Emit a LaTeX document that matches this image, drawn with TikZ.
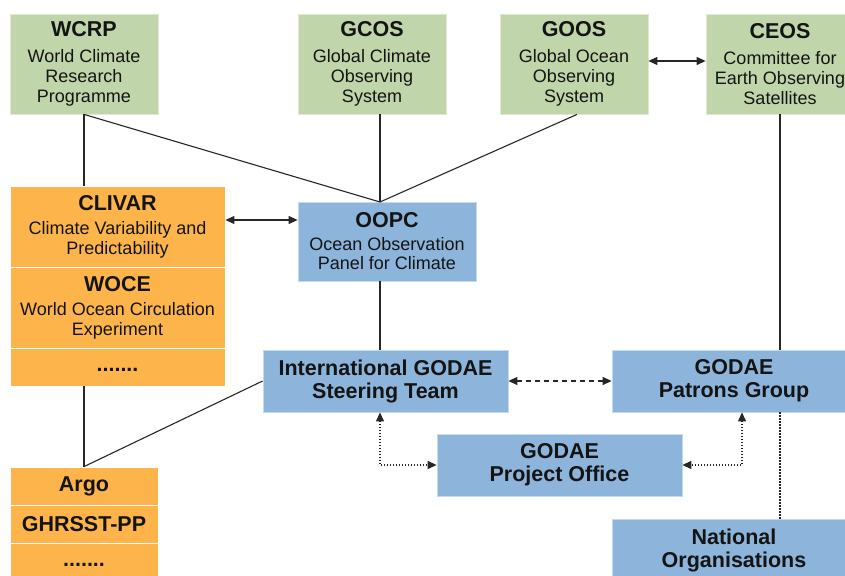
\documentclass[tikz,border=0pt]{standalone}
\usepackage{fontspec}
\setmainfont{Liberation Sans}
\usetikzlibrary{arrows.meta,calc}
\definecolor{grn}{HTML}{C0D5A9}
\definecolor{org}{HTML}{FDB44B}
\definecolor{blu}{HTML}{8DB5DB}
\definecolor{txt}{HTML}{141414}
\newcommand\mytitle{\bfseries\fontsize{21.5}{23}\selectfont}
\newcommand\mydots{\raisebox{-4pt}[0pt][0pt]{.......}}
\begin{document}
\begin{tikzpicture}[x=1pt,y=-1pt,
  box/.style={rectangle, inner sep=0pt, text=txt, align=center,
    font=\fontsize{18}{19.5}\selectfont, line width=0.8pt},
  gbox/.style={box, fill=grn, draw=grn!50!white, minimum width=148pt, minimum height=100pt,
    font=\fontsize{18}{20}\selectfont},
  obox/.style={box, fill=org, draw=white, minimum width=215pt},
  abox/.style={box, fill=org, draw=white, minimum width=148pt, minimum height=38pt, font=\mytitle},
  bbox/.style={box, fill=blu, draw=blu!50!white, font=\mytitle},
  conn/.style={draw=black!85, line width=1.1pt},
  arr/.style={conn, {Triangle[length=9pt,width=8pt]}-{Triangle[length=9pt,width=8pt]}},
  darr/.style={conn, dash pattern=on 5pt off 4pt, {Triangle[length=9pt,width=8pt]}-{Triangle[length=9pt,width=8pt]}},
  tarr/.style={conn, dash pattern=on 1.3pt off 1.7pt, {Triangle[length=9pt,width=8pt]}-{Triangle[length=9pt,width=8pt]}},
  tline/.style={conn, dash pattern=on 1.3pt off 1.7pt}
]
\useasboundingbox (0,0) rectangle (845,575);
\fill[white] (0,0) rectangle (845,575);

% top green boxes
\node[gbox] (wcrp) at (84,64) {{\mytitle WCRP}\\[6pt] World Climate\\ Research\\ Programme};
\node[gbox] (gcos) at (372,64) {{\mytitle GCOS}\\[6pt] Global Climate\\ Observing\\ System};
\node[gbox] (goos) at (574,64) {{\mytitle GOOS}\\[6pt] Global Ocean\\ Observing\\ System};
\node[gbox] (ceos) at (780,64) {{\mytitle CEOS}\\[6pt] Committee for\\ Earth Observing\\ Satellites};

% orange stack
\node[obox, minimum height=81pt] (clivar) at (117.5,226.5) {{\mytitle CLIVAR}\\[5pt] Climate Variability and\\ Predictability};
\node[obox, minimum height=81pt] (woce) at (117.5,307.5) {{\mytitle WOCE}\\[5pt] World Ocean Circulation\\ Experiment};
\node[obox, minimum height=38pt, font=\mytitle] (dots1) at (117.5,367) {\mydots};

% argo stack
\node[abox] (argo) at (84,486) {Argo};
\node[abox] (ghr) at (84,524) {GHRSST-PP};
\node[abox] (dots2) at (84,562) {\mydots};

% blue boxes
\node[bbox, font=\fontsize{18}{19.5}\selectfont, minimum width=178pt, minimum height=79pt] (oopc) at (387,241.5) {{\mytitle OOPC}\\[3pt] Ocean Observation\\ Panel for Climate};
\node[bbox, minimum width=245pt, minimum height=62pt] (igst) at (385.5,381) {International GODAE\\ Steering Team};
\node[bbox, minimum width=244pt, minimum height=62pt] (patrons) at (734,381) {GODAE\\ Patrons Group};
\node[bbox, minimum width=245pt, minimum height=62pt] (office) at (559.5,465) {GODAE\\ Project Office};
\node[bbox, minimum width=244pt, minimum height=62pt] (national) at (734,550) {National\\ Organisations};

% junction above OOPC
\coordinate (j) at (380,202);

% connectors
\draw[conn] (wcrp.south) -- (j);
\draw[conn] (gcos.south -| j) -- (j);
\draw[conn] ([xshift=3pt]goos.south) -- (j);
\draw[conn] (wcrp.south) -- (wcrp.south |- clivar.north);
\draw[conn] (oopc.south -| j) -- (igst.north -| j);
\draw[conn] (ceos.south) -- (ceos.south |- patrons.north);
\draw[conn] (argo.north |- dots1.south) -- (argo.north);
\draw[conn] (igst.west) -- (argo.north);

\draw[arr] ([yshift=3pt]goos.east) -- ([yshift=3pt]ceos.west);
\draw[arr] ([yshift=6.5pt]clivar.east) -- ([yshift=6.5pt]clivar.east -| oopc.west);
\draw[darr] (igst.east) -- (patrons.west);
\draw[tarr] (igst.south -| j) |- (office.west);
\draw[tarr] ([xshift=8pt]patrons.south) |- (office.east);
\draw[tline] (patrons.south -| ceos.south) -- (national.north -| ceos.south);
\end{tikzpicture}
\end{document}
